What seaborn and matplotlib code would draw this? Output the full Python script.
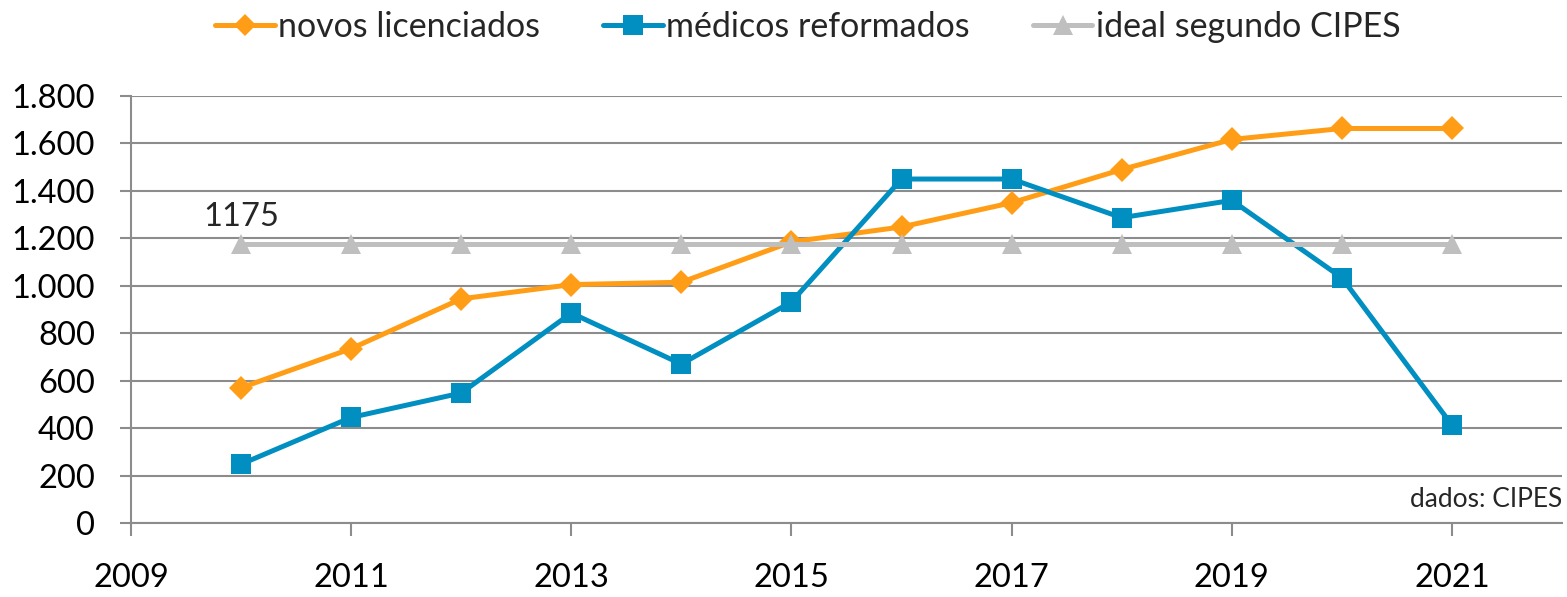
import matplotlib
matplotlib.use("Agg")
import matplotlib.pyplot as plt
import seaborn as sns
import pandas as pd

years = [2010, 2011, 2012, 2013, 2014, 2015, 2016, 2017, 2018, 2019, 2020, 2021]
novos_licenciados = [570, 735, 945, 1005, 1015, 1185, 1248, 1350, 1490, 1617, 1663, 1663]
medicos_reformados = [248, 445, 548, 885, 670, 932, 1450, 1450, 1287, 1360, 1034, 413]
ideal_cipes = [1175] * 12
series_names = ["novos licenciados", "médicos reformados", "ideal segundo CIPES"]
x_ticks = [2009, 2011, 2013, 2015, 2017, 2019, 2021]
y_ticks = [0, 200, 400, 600, 800, 1000, 1200, 1400, 1600, 1800]
y_tick_labels = ["0", "200", "400", "600", "800", "1.000", "1.200", "1.400", "1.600", "1.800"]

sns.set_style("white")
plt.rcParams["font.family"] = ["Lato", "DejaVu Sans"]

fig = plt.figure(figsize=(15.67, 5.97), dpi=100)
ax = fig.add_axes([131 / 1567, 1 - 523 / 597, (1562 - 131) / 1567, (523 - 96) / 597])

grid_c = "#8C8C8C"
ax.set_axisbelow(True)
ax.yaxis.grid(True, color=grid_c, linewidth=1.5)
ax.xaxis.grid(False)

colors = ["#FF9E16", "#008FC0", "#BFBFBF"]
markers = ["D", "s", "^"]
msizes = [12, 15, 15]
datas = [novos_licenciados, medicos_reformados, ideal_cipes]
order = [2, 0, 1]
for i in order:
    df = pd.DataFrame({"ano": years, "valor": datas[i]})
    sns.lineplot(data=df, x="ano", y="valor", ax=ax, color=colors[i], linewidth=3.6,
                 marker=markers[i], markersize=msizes[i], markeredgewidth=0,
                 label=series_names[i], zorder=3 + i)

ax.set_xlim(2009, 2022)
ax.set_ylim(0, 1800)
ax.set_xticks(x_ticks)
ax.set_xticklabels([str(t) for t in x_ticks])
ax.set_yticks(y_ticks)
ax.set_yticklabels(y_tick_labels)
ax.set_xlabel("")
ax.set_ylabel("")

for s in ["top", "right"]:
    ax.spines[s].set_visible(False)
ax.spines["left"].set_color(grid_c)
ax.spines["left"].set_linewidth(1.5)
ax.spines["bottom"].set_color(grid_c)
ax.spines["bottom"].set_linewidth(1.5)

fs = 23.5
ax.tick_params(axis="y", which="both", left=True, length=8, width=1.5, color=grid_c,
               labelsize=fs, pad=18, labelcolor="black")
ax.tick_params(axis="x", which="both", bottom=True, length=9, width=1.5, color=grid_c,
               labelsize=fs, pad=20, labelcolor="black")

ax.annotate("1175", xy=(2010, 1175), xytext=(0, 9), textcoords="offset points",
            ha="center", va="bottom", fontsize=fs)
ax.text(1.0, 0.055, "dados: CIPES", transform=ax.transAxes, ha="right", va="center",
        fontsize=19)

handles, labels = ax.get_legend_handles_labels()
hmap = dict(zip(labels, handles))
ax.legend([hmap[n] for n in series_names], series_names, loc="center",
          bbox_to_anchor=(808 / 1567, 1 - 27 / 597), bbox_transform=fig.transFigure,
          ncol=3, frameon=False, fontsize=24.5, handlelength=1.75, handletextpad=0.1,
          columnspacing=1.85, markerscale=0.95)

fig.savefig("out.png", dpi=100)
